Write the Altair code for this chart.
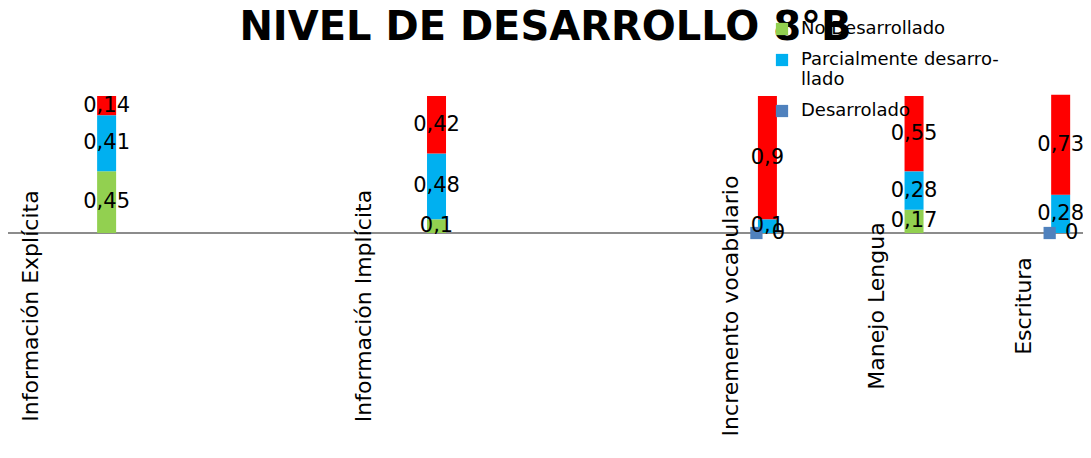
import altair as alt
import pandas as pd

# ---------------- data ----------------
categorias = ["Información Explícita", "Información Implícita",
              "Incremento vocabulario", "Manejo Lengua", "Escritura"]
no_desarrollado = [0.45, 0.10, None, 0.17, None]
parcialmente = [0.41, 0.48, 0.10, 0.28, 0.28]
serie_roja = [0.14, 0.42, 0.90, 0.55, 0.73]
desarrolado = [None, None, 0, None, 0]

series = ["No Desarrollado", "Parcialmente desarrollado", "Desarrolado", "Serie 4"]
colores = ["#92D050", "#00B0F0", "#4F81BD", "#FF0000"]
titulo = "NIVEL DE DESARROLLO 8°B"

# ---------------- layout (scale units = px of the view) ----------------
W, H = 1075, 442
bar_pos = [94.5, 427.5, 761.5, 909.5, 1057.5]
label_pos = [18, 354, 725, 872, 1020]

rows = []
for i, cat in enumerate(categorias):
    acc = 0.0
    for orden, (name, arr) in enumerate([(series[0], no_desarrollado),
                                          (series[1], parcialmente),
                                          (series[3], serie_roja)]):
        if arr[i] is not None:
            rows.append({"categoria": cat, "serie": name, "valor": arr[i],
                         "v0": acc, "v1": acc + arr[i], "mid": acc + arr[i] / 2,
                         "xpos": bar_pos[i]})
            acc += arr[i]
bars_df = pd.DataFrame(rows)

pts_df = pd.DataFrame([{"categoria": c, "valor": v, "xpos": bar_pos[i]}
                       for i, (c, v) in enumerate(zip(categorias, desarrolado)) if v is not None])
lab_df = pd.DataFrame({"categoria": categorias, "xpos": label_pos})

xs = alt.Scale(domain=[0, W], nice=False, zero=False)
ys = alt.Scale(domain=[-1.5839, 1.6423], nice=False, zero=False)


def X():
    return alt.X("xpos:Q", scale=xs, axis=None)


def Y(field):
    return alt.Y(field, scale=ys, axis=None)


fmt = "replace(format(datum.valor, '.2~f'), '.', ',')"

bars = alt.Chart(bars_df).mark_bar(size=19).encode(
    x=X(),
    y=Y("v0:Q"),
    y2="v1:Q",
    color=alt.Color("serie:N",
                    scale=alt.Scale(domain=series, range=colores),
                    legend=alt.Legend(
                        orient="none", legendX=765, legendY=12, title=None,
                        values=series[:3], symbolType="square", symbolSize=150,
                        symbolStrokeWidth=0, labelFontSize=18, labelFont="DejaVu Sans",
                        labelColor="black", rowPadding=13, labelOffset=10, padding=0,
                        labelLimit=500,
                        labelExpr="datum.label == 'Parcialmente desarrollado' ? ['Parcialmente desarro-', 'llado'] : datum.label")),
)

bar_text = alt.Chart(bars_df).transform_calculate(txt=fmt).mark_text(
    fontSize=21, font="DejaVu Sans", color="black",
    align="center", baseline="middle").encode(
    x=X(), y=Y("mid:Q"), text="txt:N"
)

axis_line = alt.Chart(pd.DataFrame({"y": [0]})).mark_rule(
    color="#8C8C8C", strokeWidth=2).encode(y=Y("y:Q"))

pts = alt.Chart(pts_df).mark_square(size=150, xOffset=-11, color="#4F81BD", opacity=1).encode(
    x=X(), y=Y("valor:Q"))
pts_text = alt.Chart(pts_df).transform_calculate(txt=fmt).mark_text(
    fontSize=21, font="DejaVu Sans", color="black", dx=11,
    align="center", baseline="middle").encode(
    x=X(), y=Y("valor:Q"), text="txt:N")

cat_labels = alt.Chart(lab_df).mark_text(
    angle=270, fontSize=22, font="DejaVu Sans", color="black",
    align="center", baseline="middle").encode(
    x=X(), y=alt.value(298), text="categoria:N")

title_mark = alt.Chart(pd.DataFrame({"t": [titulo]})).mark_text(
    fontSize=40, font="DejaVu Sans", fontWeight="bold", color="black",
    align="center", baseline="alphabetic").encode(
    x=alt.value(W / 2), y=alt.value(32), text="t:N")

chart = alt.layer(axis_line, bars, pts, bar_text, pts_text, cat_labels, title_mark).properties(
    width=W, height=H,
    autosize=alt.AutoSizeParams(type="none"),
    padding=0,
    background="white",
).configure_view(strokeWidth=0)

chart.save("out.html", embed_options={"renderer": "svg", "actions": False})
